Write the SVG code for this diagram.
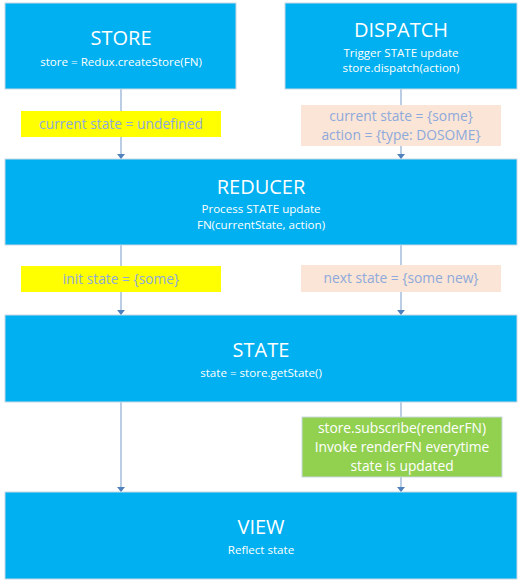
<svg xmlns="http://www.w3.org/2000/svg" width="527" height="587" viewBox="0 0 527 587">
<defs>
<style>
.box{fill:#00B0F0;stroke:#C9D7E3;stroke-width:1}
.t{font-family:"Open Sans","Noto Sans","Liberation Sans",sans-serif;fill:#fff;text-anchor:middle}
.title{font-size:20px}
.sub{font-size:11.6px}
.lbl{font-family:"Open Sans","Noto Sans","Liberation Sans",sans-serif;font-size:13.8px;text-anchor:middle;fill:#8EA9DB}
.conn{stroke:#95B3D7;stroke-width:1.3;fill:none}
</style>
<marker id="ah" viewBox="0 0 5 8" refX="5" refY="4" markerWidth="5" markerHeight="8" markerUnits="userSpaceOnUse" orient="auto">
<path d="M0,0 L5,4 L0,8 z" fill="#4F81BD"/>
</marker>
</defs>
<rect width="527" height="587" fill="#fff"/>
<g id="connectors">
<line class="conn" x1="121" y1="89" x2="121" y2="159" marker-end="url(#ah)"/>
<line class="conn" x1="401" y1="89" x2="401" y2="159" marker-end="url(#ah)"/>
<line class="conn" x1="121" y1="245" x2="121" y2="315" marker-end="url(#ah)"/>
<line class="conn" x1="401" y1="245" x2="401" y2="315" marker-end="url(#ah)"/>
<line class="conn" x1="121" y1="402" x2="121" y2="492" marker-end="url(#ah)"/>
<line class="conn" x1="401" y1="402" x2="401" y2="492" marker-end="url(#ah)"/>
</g>
<g id="label-undefined">
<rect x="21" y="111" width="200" height="26" fill="#FFFF00"/>
<text class="lbl" x="121" y="129">current state = undefined</text>
</g>
<g id="label-action">
<rect x="301" y="105" width="200" height="41" fill="#FBE5D6"/>
<text class="lbl" x="401" y="121">current state = {some}</text>
<text class="lbl" x="401" y="140">action = {type: DOSOME}</text>
</g>
<g id="label-init">
<rect x="21" y="266" width="200" height="26" fill="#FFFF00"/>
<text class="lbl" x="121" y="284">init state = {some}</text>
</g>
<g id="label-next">
<rect x="301" y="265" width="200" height="27" fill="#FBE5D6"/>
<text class="lbl" x="401" y="283">next state = {some new}</text>
</g>
<g id="label-subscribe">
<rect x="302" y="417" width="200" height="60" fill="#92D050" stroke="#C9D7E3" stroke-width="1"/>
<text class="lbl" x="402" y="433" style="fill:#fff">store.subscribe(renderFN)</text>
<text class="lbl" x="402" y="452" style="fill:#fff">Invoke renderFN everytime</text>
<text class="lbl" x="402" y="471" style="fill:#fff">state is updated</text>
</g>
<g id="store">
<rect class="box" x="5" y="3" width="231" height="86"/>
<text class="t title" x="121" y="45">STORE</text>
<text class="t sub" x="121" y="66">store = Redux.createStore(FN)</text>
</g>
<g id="dispatch">
<rect class="box" x="285" y="3" width="232" height="86"/>
<text class="t title" x="401" y="37">DISPATCH</text>
<text class="t sub" x="401" y="57">Trigger STATE update</text>
<text class="t sub" x="401" y="72">store.dispatch(action)</text>
</g>
<g id="reducer">
<rect class="box" x="5" y="159" width="512" height="86"/>
<text class="t title" x="261" y="194">REDUCER</text>
<text class="t sub" x="261" y="213">Process STATE update</text>
<text class="t sub" x="261" y="229">FN(currentState, action)</text>
</g>
<g id="state">
<rect class="box" x="5" y="315" width="512" height="87"/>
<text class="t title" x="261" y="357">STATE</text>
<text class="t sub" x="261" y="377">state = store.getState()</text>
</g>
<g id="view">
<rect class="box" x="5" y="492" width="512" height="87"/>
<text class="t title" x="261" y="534">VIEW</text>
<text class="t sub" x="261" y="554">Reflect state</text>
</g>
</svg>
